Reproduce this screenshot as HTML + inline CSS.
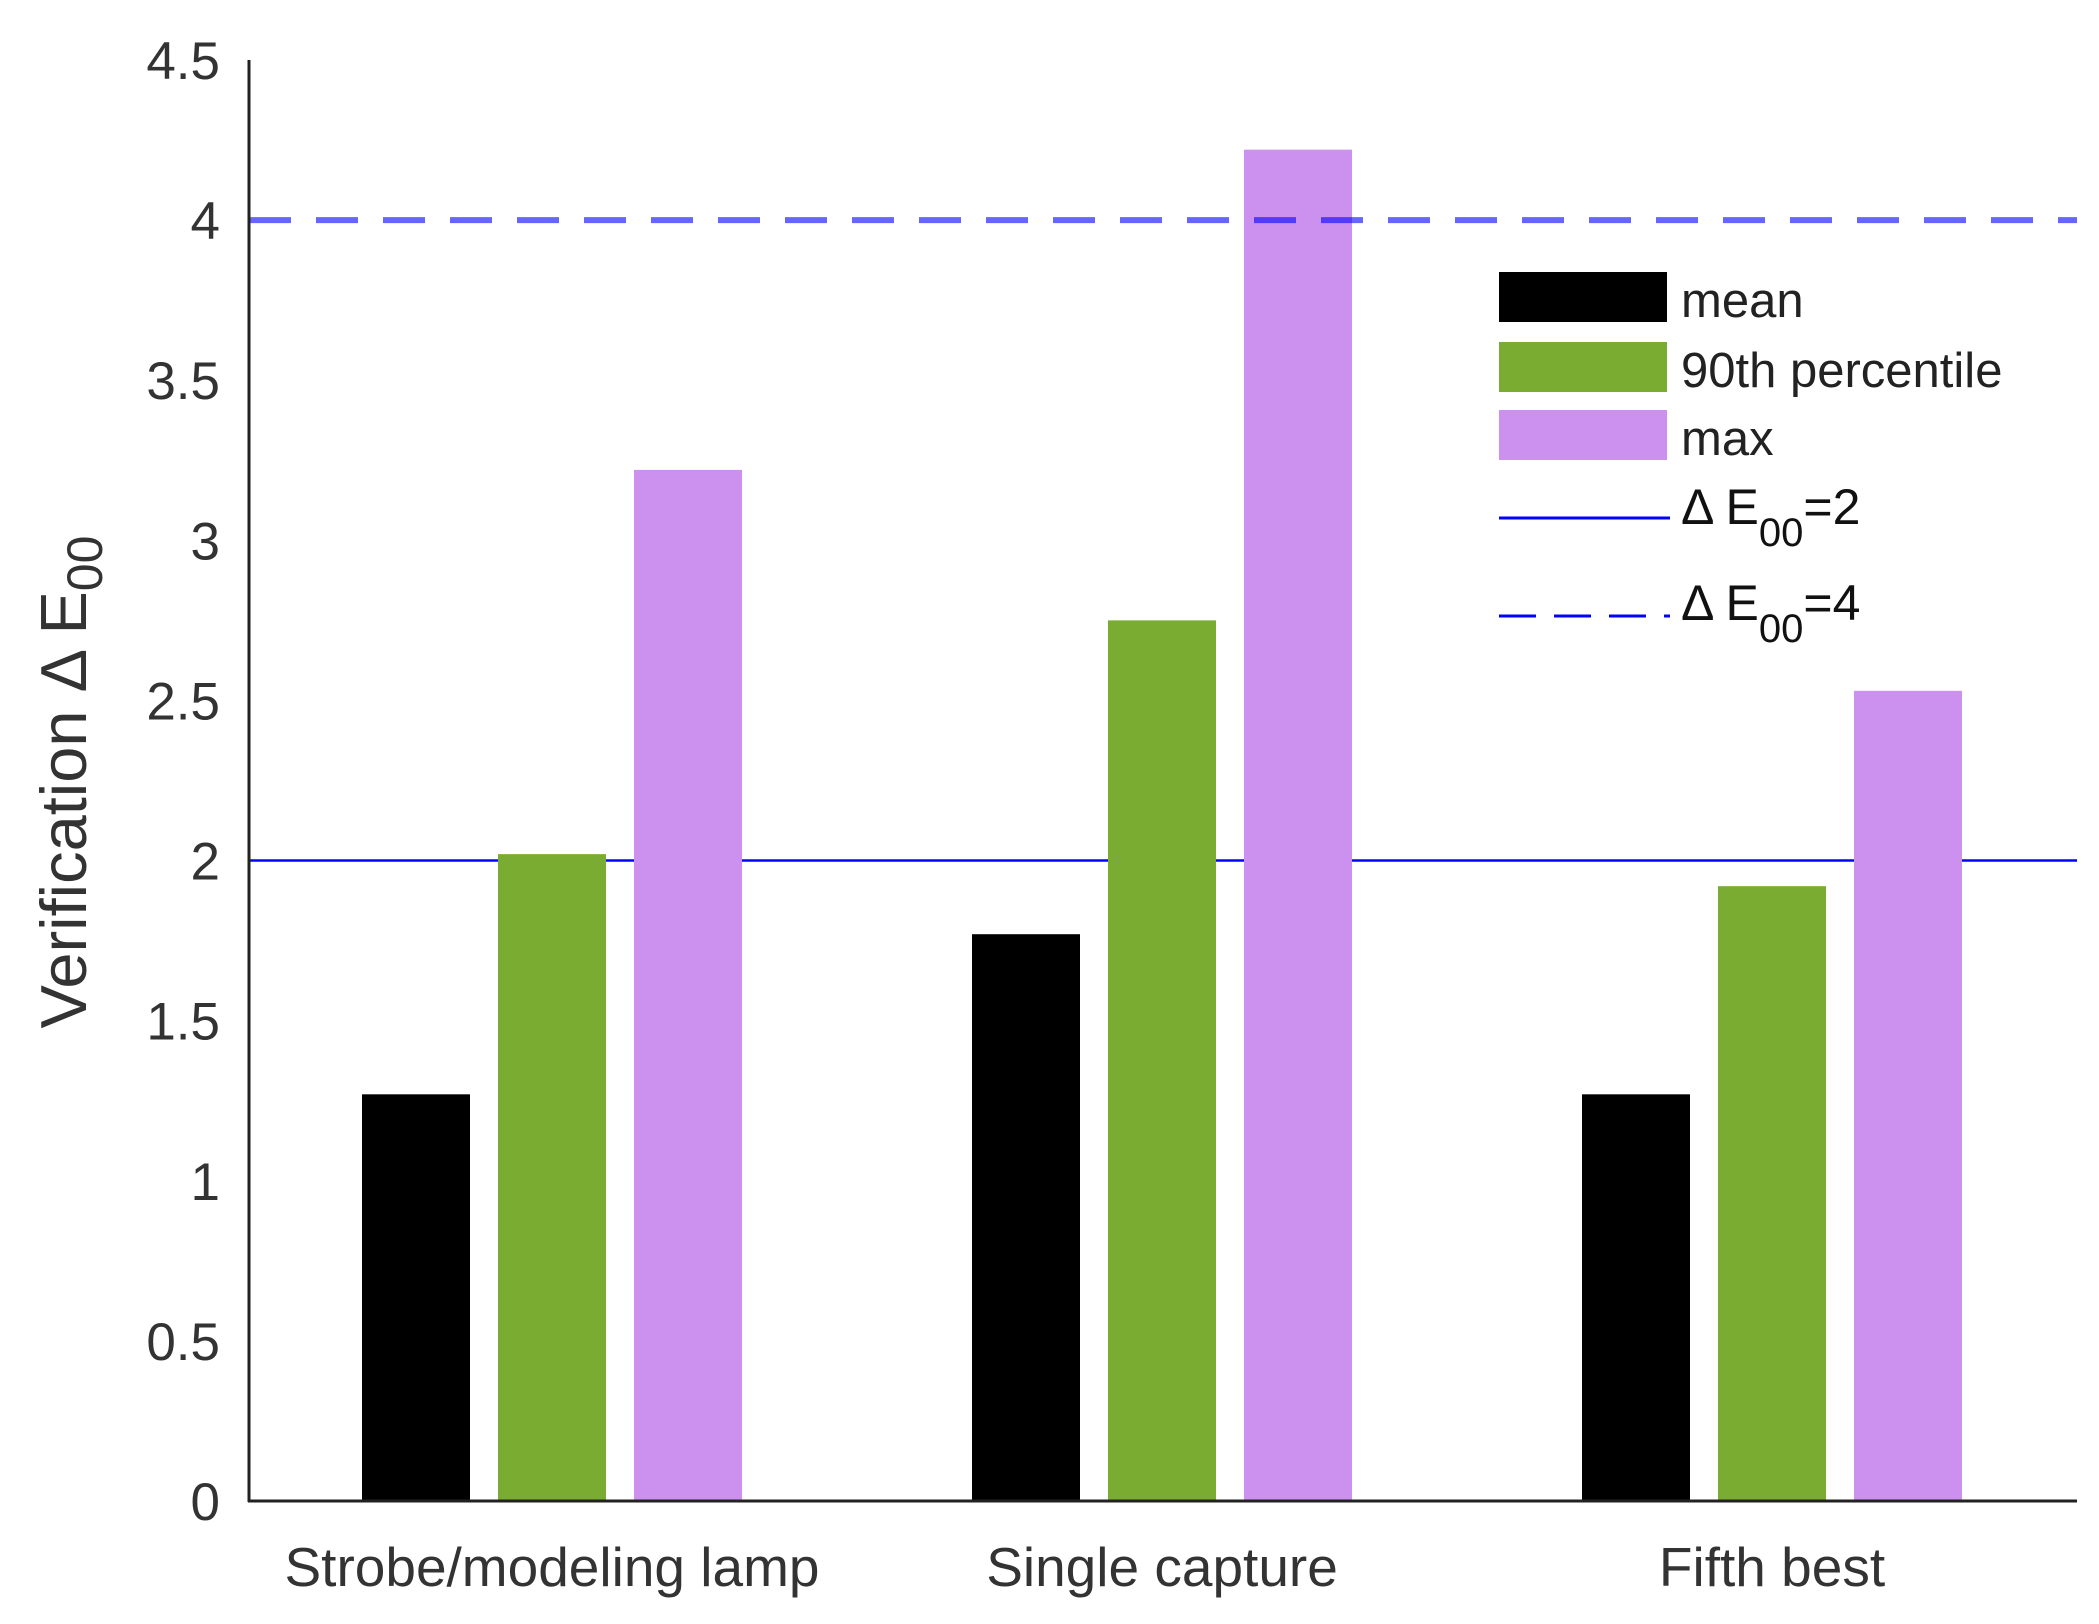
<!DOCTYPE html>
<html><head><meta charset="utf-8"><style>
html,body{margin:0;padding:0;background:#fff;}
svg{display:block;font-family:"Liberation Sans",Arial,sans-serif;}
</style></head><body>
<svg id="chart" width="2099" height="1624" viewBox="0 0 2099 1624" xmlns="http://www.w3.org/2000/svg"></svg>
<script>
const categories = ["Strobe/modeling lamp", "Single capture", "Fifth best"];
const meanValues = [1.27, 1.77, 1.27];
const p90Values = [2.02, 2.75, 1.92];
const maxValues = [3.22, 4.22, 2.53];
const yTicks = [0, 0.5, 1, 1.5, 2, 2.5, 3, 3.5, 4, 4.5];
const yTickLabels = ["0", "0.5", "1", "1.5", "2", "2.5", "3", "3.5", "4", "4.5"];
const thresholds = [2, 4];

const NS = "http://www.w3.org/2000/svg";
const svg = document.getElementById("chart");
const X0 = 249, X1 = 2077, Y0 = 1501, YTOP = 60;
const yMax = 4.5;
function yScale(v){ return Y0 - v / yMax * (Y0 - YTOP); }
const groupStart = 552, groupStep = 610;
function xCenter(i){ return groupStart + i * groupStep; }
const barW = 108, barOff = 136;

function mk(tag, attrs, parent){
  const e = document.createElementNS(NS, tag);
  for (const k in attrs) e.setAttribute(k, attrs[k]);
  (parent || svg).appendChild(e);
  return e;
}

const l2 = mk("line", {x1: X0, x2: X1, y1: yScale(thresholds[0]), y2: yScale(thresholds[0]), stroke: "#0000ff", "stroke-width": 2.5});



const series = [
  {vals: meanValues, color: "#000000", name: "mean"},
  {vals: p90Values, color: "#79ac30", name: "p90"},
  {vals: maxValues, color: "#cc91ee", name: "max"}
];
series.forEach((s, si) => {
  s.vals.forEach((v, i) => {
    const x = xCenter(i) + (si - 1) * barOff - barW / 2;
    const r = mk("rect", {x: x, y: yScale(v), width: barW, height: Y0 - yScale(v), fill: s.color});
    
    
  });
});

const l4 = mk("line", {x1: X0, x2: X1, y1: yScale(thresholds[1]), y2: yScale(thresholds[1]), stroke: "#0000ff", "stroke-opacity": 0.6, "stroke-width": 6, "stroke-dasharray": "42 25"});



const ya = mk("line", {x1: X0, x2: X0, y1: YTOP, y2: Y0 + 1, stroke: "#222", "stroke-width": 3});


const xa = mk("line", {x1: X0 - 1, x2: X1, y1: Y0, y2: Y0, stroke: "#222", "stroke-width": 3});



yTicks.forEach((t, i) => {
  const tx = mk("text", {x: 220, y: yScale(t) + 19, "text-anchor": "end", "font-size": 53, fill: "#333"});
  tx.textContent = yTickLabels[i];
  
  
});
categories.forEach((c, i) => {
  const tx = mk("text", {x: xCenter(i), y: 1586, "text-anchor": "middle", "font-size": 55, fill: "#333"});
  tx.textContent = c;
  
  
});

const yt = mk("text", {x: 0, y: 0, "font-size": 65, fill: "#333", "text-anchor": "middle", transform: "translate(86,782) rotate(-90)"});


yt.innerHTML = 'Verification Δ E<tspan font-size="50" dy="16">00</tspan>';

const leg = mk("g", {});


const LX = 1507 - 8, LW = 168, TX = 1681;
const legendRows = [
  {y: 272, color: "#000000", label: "mean"},
  {y: 342, color: "#79ac30", label: "90th percentile"},
  {y: 410, color: "#cc91ee", label: "max"}
];
legendRows.forEach(r => {
  const sw = mk("rect", {x: LX, y: r.y, width: LW, height: 50, fill: r.color}, leg);
  
  
  const t = mk("text", {x: TX, y: r.y + 45, "font-size": 49, fill: "#222"}, leg);
  t.textContent = r.label;
  
  
});
const ls = mk("line", {x1: LX, x2: LX + LW + 3, y1: 518, y2: 518, stroke: "#0000ff", "stroke-width": 3}, leg);


const ld = mk("line", {x1: LX, x2: LX + LW + 3, y1: 616, y2: 616, stroke: "#0000ff", "stroke-width": 3, "stroke-dasharray": "37 18"}, leg);


[[524, "=2"], [620, "=4"]].forEach(p => {
  const t = mk("text", {x: TX, y: p[0], "font-size": 50, fill: "#111"}, leg);
  t.innerHTML = 'Δ E<tspan font-size="40" dy="22">00</tspan><tspan dy="-22">' + p[1] + '</tspan>';
  
  
});
</script>
</body></html>
